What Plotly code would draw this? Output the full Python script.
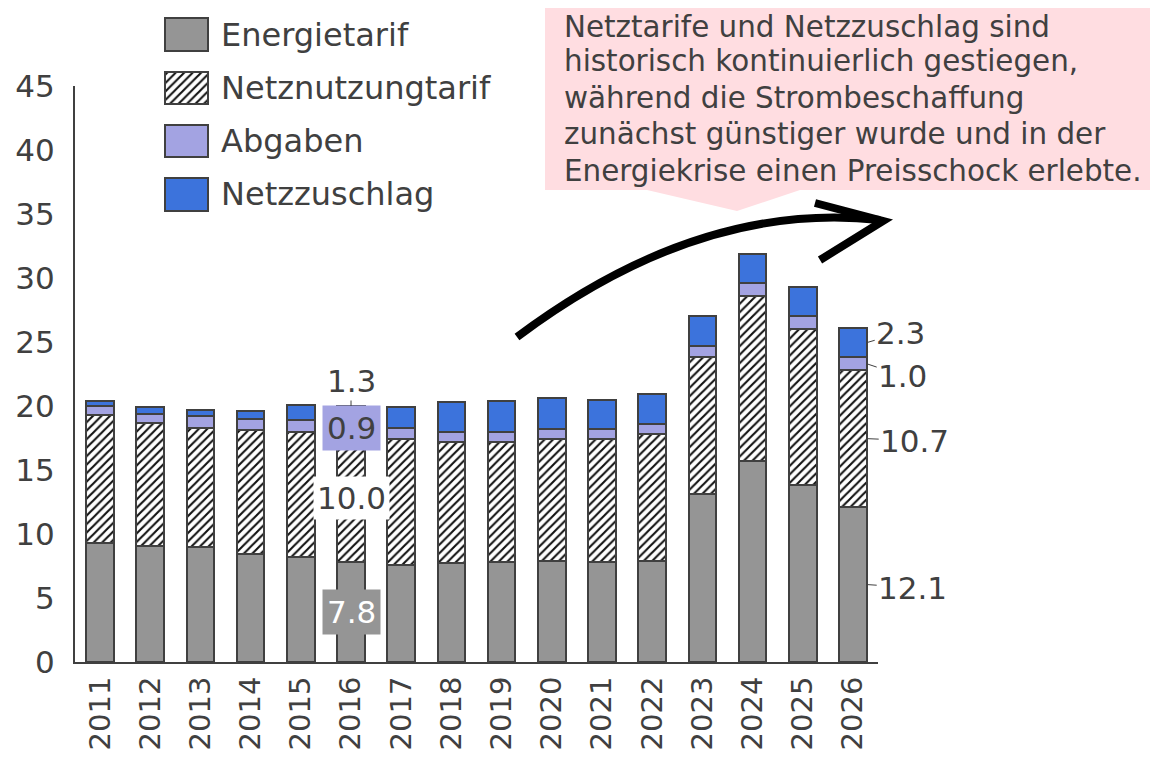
import plotly.graph_objects as go

years = [str(y) for y in range(2011, 2027)]
energietarif = [9.3, 9.1, 9.0, 8.4, 8.2, 7.8, 7.6, 7.7, 7.8, 7.9, 7.8, 7.9, 13.1, 15.7, 13.8, 12.1]
netznutzung = [10.0, 9.6, 9.3, 9.7, 9.8, 10.0, 9.8, 9.5, 9.4, 9.5, 9.6, 9.9, 10.7, 12.9, 12.2, 10.7]
abgaben = [0.7, 0.7, 0.9, 0.9, 0.9, 0.9, 0.9, 0.8, 0.8, 0.8, 0.8, 0.8, 0.9, 1.0, 1.0, 1.0]
netzzuschlag = [0.4, 0.5, 0.5, 0.6, 1.2, 1.3, 1.6, 2.3, 2.4, 2.4, 2.3, 2.3, 2.3, 2.3, 2.3, 2.3]
series_names = ["Energietarif", "Netznutzungtarif", "Abgaben", "Netzzuschlag"]
callout_lines = [
    "Netztarife und Netzzuschlag sind",
    "historisch kontinuierlich gestiegen,",
    "während die Strombeschaffung",
    "zunächst günstiger wurde und in der",
    "Energiekrise einen Preisschock erlebte.",
]

# page offset (default body margin) and figure size
OX, OY = 8, 8
W, H = 1150, 749
FONT = "DejaVu Sans, Verdana, sans-serif"
TXT = "#404040"
GRAY = "#959595"
LAV = "#A3A3E2"
BLUE = "#3C73DC"
EDGE = "#404040"
HATCH = dict(shape="/", fgcolor="#111111", bgcolor="white", size=6, solidity=0.35)


def px(x):
    return max(0.0, min(1.0, (x - OX) / W))


def py(y):
    return max(0.0, min(1.0, 1 - (y - OY) / H))


fig = go.Figure()
markers = [dict(color=GRAY), dict(color="white", pattern=HATCH), dict(color=LAV), dict(color=BLUE)]
data = [energietarif, netznutzung, abgaben, netzzuschlag]
for name, vals, m in zip(series_names, data, markers):
    m = dict(m, line=dict(color=EDGE, width=2))
    fig.add_bar(x=years, y=vals, name=name, marker=m, width=0.55, showlegend=False)

# manual legend (large swatches), one bar per series
for name, m in zip(series_names, markers):
    m = dict(m, line=dict(color=EDGE, width=2))
    fig.add_bar(x=[1], y=[name], orientation="h", xaxis="x2", yaxis="y2", width=0.61,
                showlegend=False, hoverinfo="skip", marker=m)

annotations = []
for n in series_names:
    annotations.append(dict(xref="paper", yref="y2", x=px(219), y=n, xanchor="left", yanchor="middle",
                            text=n, showarrow=False, font=dict(size=32, color=TXT, family=FONT)))

# 2016 labels
i = years.index("2016")
e, nn, a, z = energietarif[i], netznutzung[i], abgaben[i], netzzuschlag[i]
annotations += [
    dict(x=i, y=e / 2, text=f"{e:.1f}", showarrow=False, bgcolor=GRAY, borderpad=4,
         font=dict(size=31, color="white", family=FONT)),
    dict(x=i, y=e + nn / 2, text=f"{nn:.1f}", showarrow=False, bgcolor="white", borderpad=3,
         font=dict(size=31, color=TXT, family=FONT)),
    dict(x=i, y=e + nn + a / 2, text=f"{a:.1f}", showarrow=False, bgcolor=LAV, borderpad=4,
         font=dict(size=31, color=TXT, family=FONT)),
    dict(x=i, y=e + nn + a + z, text=f"{z:.1f}", showarrow=True, arrowhead=0, arrowwidth=1,
         arrowcolor=TXT, ax=0, ay=-25, font=dict(size=31, color=TXT, family=FONT)),
]

# 2026 labels on right
j = len(years) - 1
vals26 = [energietarif[j], netznutzung[j], abgaben[j], netzzuschlag[j]]
offsets = [(46, 3), (48, 2), (36, 12), (34, -10)]
cum = 0
for v, (ax, ay) in zip(vals26, offsets):
    annotations.append(dict(x=j + 0.275, y=cum + v / 2, text=f"{v:.1f}", showarrow=True, arrowhead=0,
                            arrowwidth=1, arrowcolor=TXT, ax=ax, ay=ay, standoff=0,
                            font=dict(size=31, color=TXT, family=FONT)))
    cum += v

for k, line in enumerate(callout_lines):
    annotations.append(dict(xref="paper", yref="paper", x=px(562), y=py(5 + 36.75 * k), xanchor="left",
                            yanchor="top", align="left", text=line, showarrow=False,
                            font=dict(size=29.4, color=TXT, family=FONT)))

callout_path = (f"M {px(545)} {py(0)} L {px(1158)} {py(0)} L {px(1158)} {py(190)} L {px(800)} {py(190)} "
                f"L {px(737)} {py(211)} L {px(647)} {py(190)} L {px(545)} {py(190)} Z")
arrow_path = f"M {px(517)} {py(337)} Q {px(700)} {py(200)} {px(880)} {py(220)}"
head_path = f"M {px(815)} {py(203)} L {px(883)} {py(221)} L {px(820)} {py(260)}"
shapes = [
    dict(type="path", xref="paper", yref="paper", path=callout_path, fillcolor="#FFDDE1",
         line=dict(width=0), layer="below"),
    dict(type="path", xref="paper", yref="paper", path=arrow_path, line=dict(color="black", width=8)),
    dict(type="path", xref="paper", yref="paper", path=head_path, line=dict(color="black", width=8)),
]

fig.update_layout(
    template="none",
    width=W, height=H,
    margin=dict(l=0, r=0, t=0, b=0),
    barmode="stack",
    paper_bgcolor="white", plot_bgcolor="white",
    font=dict(family=FONT, color=TXT),
    xaxis=dict(domain=[px(75), px(878)], type="category", range=[-0.5, len(years) - 0.5],
               showline=True, linecolor=EDGE, linewidth=2,
               tickangle=-90, ticks="", showgrid=False, automargin=False, ticklabelstandoff=1,
               tickfont=dict(size=29, color=TXT, family=FONT), anchor="y"),
    yaxis=dict(domain=[py(662), py(86)], range=[0, 45], dtick=5, showline=True, linecolor=EDGE,
               linewidth=2, ticks="", showgrid=False, zeroline=False, automargin=False,
               ticklabelstandoff=12, tickfont=dict(size=31, color=TXT, family=FONT), anchor="x"),
    xaxis2=dict(domain=[px(164), px(209)], range=[-0.03, 1.03], visible=False, anchor="y2",
                fixedrange=True),
    yaxis2=dict(domain=[py(221), py(8)], visible=False, anchor="x2", type="category",
                categoryorder="array", categoryarray=series_names, autorange="reversed"),
    annotations=annotations,
    shapes=shapes,
)

fig.write_html("out.html")
